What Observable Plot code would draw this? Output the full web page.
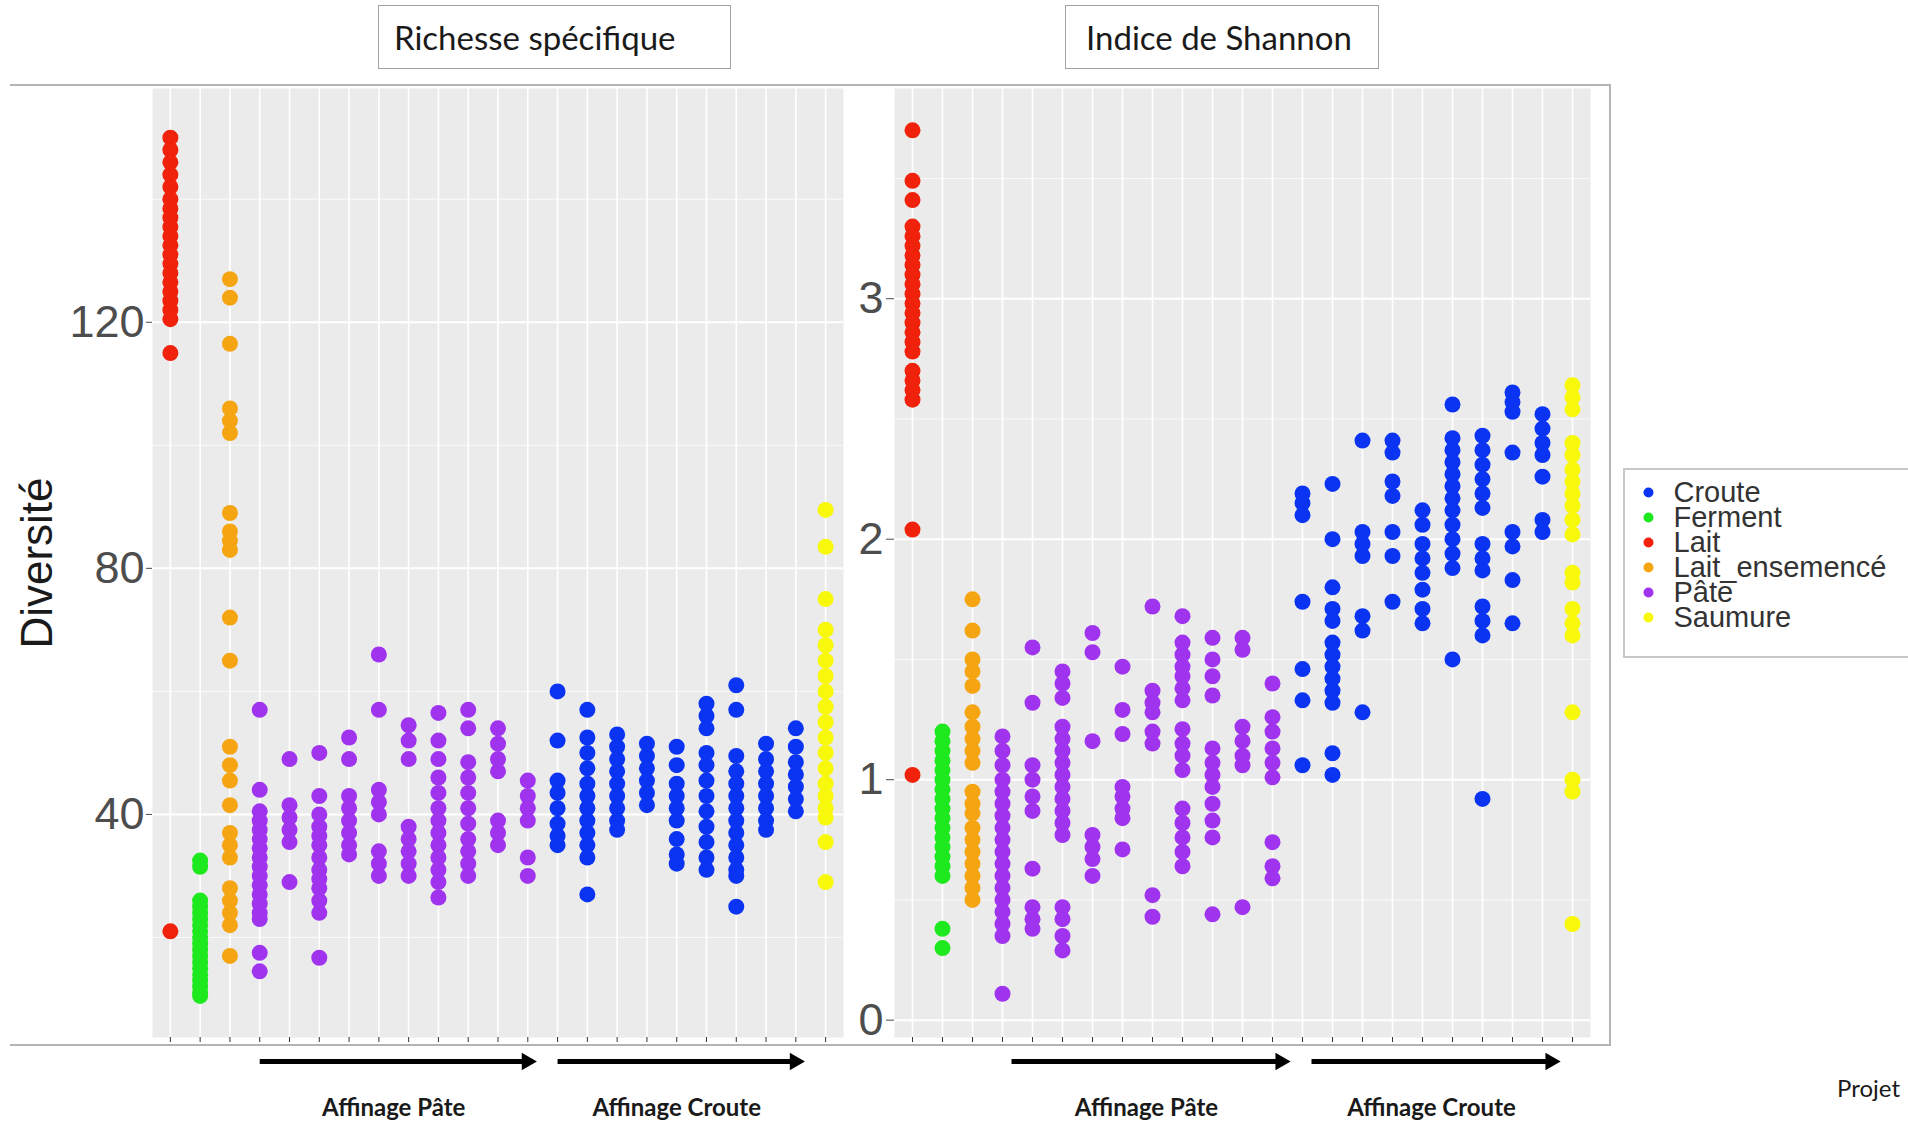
<!DOCTYPE html>
<html>
<head>
<meta charset="utf-8">
<script src="https://cdn.jsdelivr.net/npm/d3@7"></script>
<script src="https://cdn.jsdelivr.net/npm/@observablehq/plot@0.6"></script>
<style>
html, body { margin: 0; padding: 0; background: #fff; width: 1908px; height: 1123px; overflow: hidden; }
.abs { position: absolute; }
#frame { left: 10px; top: 84px; width: 1601px; height: 962px; box-sizing: border-box;
  border-top: 2px solid #b4b4b4; border-right: 2px solid #b4b4b4; border-bottom: 2px solid #b4b4b4; }
.title { box-sizing: border-box; height: 64px; top: 5px; border: 1.5px solid #a3a3a3; background: #fff;
  font-family: Lato, "Open Sans", sans-serif; font-size: 33px; color: #1a1a1a; display: flex; align-items: center; }
#t1 { left: 378px; width: 353px; padding-left: 15px; }
#t2 { left: 1065px; width: 314px; padding-left: 20px; }
#legend { left: 1623px; top: 468px; width: 300px; height: 190px; box-sizing: border-box; border: 2px solid #c8c8c8; background: #fff; }
#projet { left: 1837px; top: 1073px; font-family: Lato, "Open Sans", sans-serif; font-size: 24px; color: #1a1a1a; }
</style>
</head>
<body>
<div id="frame" class="abs"></div>
<div id="t1" class="abs title">Richesse spécifique</div>
<div id="t2" class="abs title">Indice de Shannon</div>
<div id="left" class="abs" style="left:0px;top:0px;"></div>
<div id="right" class="abs" style="left:843px;top:0px;"></div>
<div id="leftArrows" class="abs" style="left:0px;top:1046px;"></div>
<div id="rightArrows" class="abs" style="left:843px;top:1046px;"></div>
<div id="legend" class="abs"></div>
<div id="projet" class="abs">Projet</div>
<script>
// ---- Data ----
const categories = ["Lait", "Ferment", "Lait_ensemencé",
  "Pâte_1", "Pâte_2", "Pâte_3", "Pâte_4", "Pâte_5", "Pâte_6", "Pâte_7", "Pâte_8", "Pâte_9", "Pâte_10",
  "Croute_1", "Croute_2", "Croute_3", "Croute_4", "Croute_5", "Croute_6", "Croute_7", "Croute_8", "Croute_9",
  "Saumure"];
const categoryGroup = ["Lait", "Ferment", "Lait_ensemencé",
  "Pâte", "Pâte", "Pâte", "Pâte", "Pâte", "Pâte", "Pâte", "Pâte", "Pâte", "Pâte",
  "Croute", "Croute", "Croute", "Croute", "Croute", "Croute", "Croute", "Croute", "Croute",
  "Saumure"];
const groups = ["Croute", "Ferment", "Lait", "Lait_ensemencé", "Pâte", "Saumure"];
const groupColors = ["#0a34f2", "#1ee81e", "#f0220c", "#f5a512", "#a034ee", "#f8f80a"];

// Richesse spécifique, one list per category (same order as categories)
const richesse = [
  [150, 148, 146, 144, 142, 140, 138.5, 137, 135.5, 134, 132.5, 131, 129.5, 128, 126.5, 125, 123.5, 122, 120.5, 115, 21],
  [32.5, 31.5, 26, 25, 24, 23, 22, 21, 20, 19, 18, 17, 16, 15, 14, 13, 12, 11, 10.5],
  [127, 124, 116.5, 106, 104, 102, 89, 86, 84.5, 83, 72, 65, 51, 48, 45.5, 41.5, 37, 35, 33, 28, 26, 24, 22, 17],
  [57, 44, 40.5, 39, 37.5, 36, 34.5, 33, 31.5, 30, 28.5, 27, 25.5, 24, 23, 17.5, 14.5],
  [49, 41.5, 39.5, 37.5, 35.5, 29],
  [50, 43, 40, 38, 36.5, 35, 33, 31, 29.5, 28, 26, 24, 16.7],
  [52.5, 49, 43, 41, 39, 37, 35, 33.5],
  [66, 57, 44, 42, 40, 34, 32, 30],
  [54.5, 52, 49, 38, 36, 34, 32, 30],
  [56.5, 52, 49, 46, 43.5, 41, 39, 37, 35, 33, 31, 29, 26.5],
  [57, 54, 48.5, 46, 43.5, 41, 38.5, 36, 34, 32, 30],
  [54, 51.5, 49, 47, 39, 37, 35],
  [45.5, 43, 41, 39, 33, 30],
  [60, 52, 45.5, 43.5, 41, 38.5, 36.5, 35],
  [57, 52.5, 50, 47.5, 45, 43, 41, 39, 37, 35, 33, 27],
  [53, 51, 49, 47, 45, 43, 41, 39, 37.5],
  [51.5, 49.5, 47.5, 45.5, 43.5, 41.5],
  [51, 48, 45, 43, 41, 39, 36, 33.5, 32],
  [58, 56, 54, 50, 48, 45.5, 43, 40.5, 38, 35.5, 33, 31],
  [61, 57, 49.5, 47, 45, 43, 41, 39, 37, 35, 33, 31, 30, 25],
  [51.5, 49, 47, 45, 43, 41, 39, 37.5],
  [54, 51, 48.5, 46.5, 44.5, 42.5, 40.5],
  [89.5, 83.5, 75, 70, 67.5, 65, 62.5, 60, 57.5, 55, 52.5, 50, 47.5, 45, 43, 41, 39.5, 35.5, 29]
];

// Indice de Shannon, one list per category
const shannon = [
  [3.70, 3.49, 3.41, 3.30, 3.26, 3.22, 3.18, 3.14, 3.10, 3.06, 3.02, 2.98, 2.94, 2.90, 2.86, 2.82, 2.78, 2.70, 2.66, 2.62, 2.58, 2.04, 1.02],
  [1.20, 1.16, 1.12, 1.08, 1.04, 1.00, 0.96, 0.92, 0.88, 0.84, 0.80, 0.76, 0.72, 0.68, 0.64, 0.60, 0.38, 0.30],
  [1.75, 1.62, 1.50, 1.45, 1.39, 1.28, 1.22, 1.17, 1.12, 1.07, 0.95, 0.90, 0.86, 0.80, 0.75, 0.70, 0.65, 0.60, 0.55, 0.50],
  [1.18, 1.12, 1.06, 1.00, 0.95, 0.90, 0.85, 0.80, 0.75, 0.70, 0.65, 0.60, 0.55, 0.50, 0.45, 0.40, 0.35, 0.11],
  [1.55, 1.32, 1.06, 1.00, 0.93, 0.87, 0.63, 0.47, 0.42, 0.38],
  [1.45, 1.40, 1.34, 1.22, 1.17, 1.12, 1.07, 1.02, 0.97, 0.92, 0.87, 0.82, 0.77, 0.47, 0.42, 0.35, 0.29],
  [1.61, 1.53, 1.16, 0.77, 0.72, 0.67, 0.60],
  [1.47, 1.29, 1.19, 0.97, 0.93, 0.88, 0.84, 0.71],
  [1.72, 1.37, 1.32, 1.28, 1.20, 1.15, 0.52, 0.43],
  [1.68, 1.57, 1.52, 1.47, 1.43, 1.38, 1.33, 1.21, 1.15, 1.10, 1.04, 0.88, 0.82, 0.76, 0.70, 0.64],
  [1.59, 1.50, 1.43, 1.35, 1.13, 1.07, 1.02, 0.97, 0.90, 0.83, 0.76, 0.44],
  [1.59, 1.54, 1.22, 1.16, 1.10, 1.06, 0.47],
  [1.40, 1.26, 1.20, 1.13, 1.07, 1.01, 0.74, 0.64, 0.59],
  [2.19, 2.15, 2.10, 1.74, 1.46, 1.33, 1.06],
  [2.23, 2.00, 1.80, 1.71, 1.66, 1.57, 1.52, 1.47, 1.42, 1.37, 1.32, 1.11, 1.02],
  [2.41, 2.03, 1.98, 1.93, 1.68, 1.62, 1.28],
  [2.41, 2.36, 2.24, 2.18, 2.03, 1.93, 1.74],
  [2.12, 2.06, 1.98, 1.92, 1.86, 1.79, 1.71, 1.65],
  [2.56, 2.42, 2.37, 2.32, 2.27, 2.22, 2.17, 2.12, 2.06, 2.00, 1.94, 1.88, 1.50],
  [2.43, 2.37, 2.31, 2.25, 2.19, 2.13, 1.98, 1.92, 1.87, 1.72, 1.66, 1.60, 0.92],
  [2.61, 2.57, 2.53, 2.36, 2.03, 1.97, 1.83, 1.65],
  [2.52, 2.46, 2.40, 2.35, 2.26, 2.08, 2.03],
  [2.64, 2.59, 2.54, 2.40, 2.35, 2.29, 2.24, 2.19, 2.14, 2.08, 2.02, 1.86, 1.82, 1.71, 1.65, 1.60, 1.28, 1.00, 0.95, 0.40]
];

const richesseTicks = [40, 80, 120];
const richesseMinor = [20, 60, 100, 140];
const shannonTicks = [0, 1, 2, 3];
const shannonMinor = [0.5, 1.5, 2.5, 3.5];

// Stages shown by arrows under the x axis (category index ranges)
const stages = [
  {label: "Affinage Pâte", from: categories.indexOf("Pâte_1"), to: categories.indexOf("Pâte_10")},
  {label: "Affinage Croute", from: categories.indexOf("Croute_1"), to: categories.indexOf("Croute_9")}
];

// ---- Drawing ----
const xDomain = [-0.6, categories.length - 1 + 0.6];
const catIdx = d3.range(categories.length);
const font = "'Liberation Sans', Arial, Helvetica, sans-serif";

function toRows(values) {
  const rows = [];
  values.forEach((arr, i) => arr.forEach(v => rows.push({idx: i, cat: categories[i], group: categoryGroup[i], value: v})));
  return rows;
}

function panel({values, yDomain, ticks, minor, width, marginLeft, marginRight, tickSize, tickPadding, label, labelOffset}) {
  const marks = [
    Plot.frame({fill: "#EBEBEB", stroke: "none"}),
    Plot.gridY(minor, {stroke: "#fff", strokeOpacity: 0.75, strokeWidth: 1}),
    Plot.gridY(ticks, {stroke: "#fff", strokeOpacity: 1, strokeWidth: 2}),
    Plot.gridX(catIdx, {stroke: "#fff", strokeOpacity: 1, strokeWidth: 1.6}),
    Plot.axisX(catIdx, {tickFormat: () => "", tickSize: 5, tickPadding: 0, stroke: "#333", label: null}),
    Plot.axisY(ticks, {tickSize, tickPadding, fontSize: 45, color: "#4d4d4d", label: null, tickFormat: d => String(d)})
  ];
  if (label) {
    marks.push(Plot.axisY({ticks: [], tickSize: 0, label, labelAnchor: "center", labelArrow: "none",
      labelOffset, fontSize: 44, color: "#1a1a1a"}));
  }
  marks.push(Plot.dot(toRows(values), {x: "idx", y: "value", fill: "group", r: 8}));
  return Plot.plot({
    width, height: 1046, marginLeft, marginRight, marginTop: 88, marginBottom: 9,
    x: {domain: xDomain},
    y: {domain: yDomain},
    color: {domain: groups, range: groupColors},
    style: {background: "transparent", fontFamily: font, overflow: "visible"},
    marks
  });
}

function arrows({width, marginLeft, marginRight, shift}) {
  return Plot.plot({
    width, height: 77, marginLeft, marginRight, marginTop: 15, marginBottom: 15,
    x: {domain: xDomain, axis: null},
    y: {domain: [0, 1], axis: null},
    style: {background: "transparent", overflow: "visible"},
    marks: [
      Plot.link(stages, {x1: "from", x2: "to", y1: () => 1, y2: () => 1, stroke: "#000", strokeWidth: 5, dx: shift}),
      Plot.dot(stages, {x: "to", y: () => 1, symbol: "triangle", rotate: 90, r: 6.5, fill: "#000", stroke: "none", dx: shift - 1}),
      Plot.text(stages, {x: d => (d.from + d.to) / 2, y: () => 0, text: "label", dx: shift,
        fontSize: 24, fontWeight: 700, fill: "#1a1a1a", fontFamily: "Lato, 'Open Sans', sans-serif"})
    ]
  });
}

document.getElementById("left").appendChild(panel({
  values: richesse, yDomain: [3.74, 158.0], ticks: richesseTicks, minor: richesseMinor,
  width: 850, marginLeft: 152, marginRight: 7, tickSize: 6, tickPadding: 2,
  label: "Diversité", labelOffset: 132
}));
document.getElementById("right").appendChild(panel({
  values: shannon, yDomain: [-0.072, 3.874], ticks: shannonTicks, minor: shannonMinor,
  width: 766, marginLeft: 51, marginRight: 19, tickSize: 8, tickPadding: 3
}));
document.getElementById("leftArrows").appendChild(arrows({width: 850, marginLeft: 152, marginRight: 7, shift: 0}));
document.getElementById("rightArrows").appendChild(arrows({width: 766, marginLeft: 51, marginRight: 19, shift: 9}));

document.getElementById("legend").appendChild(Plot.plot({
  width: 296, height: 186, margin: 0,
  x: {axis: null},
  y: {type: "point", domain: groups, range: [20, 149], padding: 0, axis: null},
  color: {domain: groups, range: groupColors},
  style: {background: "transparent", fontFamily: font, overflow: "visible"},
  marks: [
    Plot.dot(groups, {y: d => d, fill: d => d, r: 5, frameAnchor: "left", dx: 23}),
    Plot.text(groups, {y: d => d, text: d => d, frameAnchor: "left", dx: 48, textAnchor: "start",
      fontSize: 29, fill: "#333"})
  ]
}));
</script>
</body>
</html>
